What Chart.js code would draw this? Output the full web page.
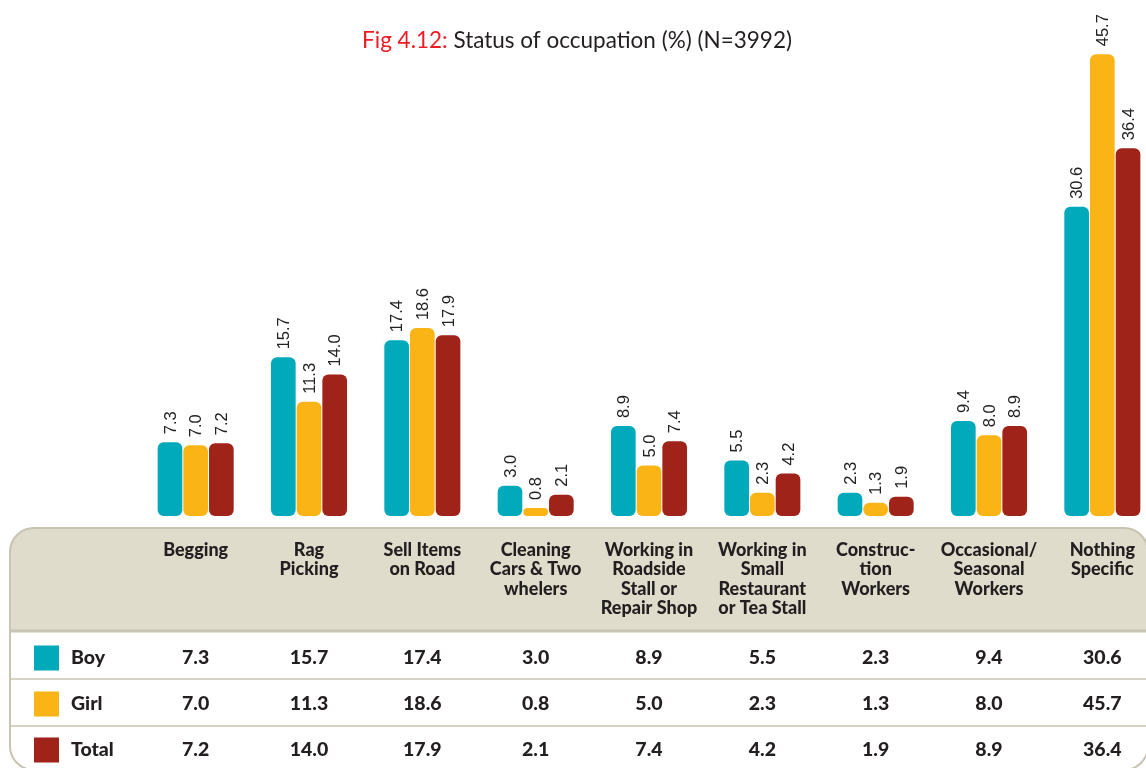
<!DOCTYPE html>
<html>
<head>
<meta charset="utf-8">
<script src="https://cdn.jsdelivr.net/npm/chart.js@4/dist/chart.umd.min.js"></script>
<style>
  html, body { margin: 0; padding: 0; background: #fff; overflow: hidden; }
  #wrap { width: 1160px; height: 768px; }
</style>
</head>
<body>
<div id="wrap"><canvas id="myChart" width="1160" height="768"></canvas></div>
<script>
const categories = [
  ["Begging"],
  ["Rag", "Picking"],
  ["Sell Items", "on Road"],
  ["Cleaning", "Cars & Two", "whelers"],
  ["Working in", "Roadside", "Stall or", "Repair Shop"],
  ["Working in", "Small", "Restaurant", "or Tea Stall"],
  ["Construc-", "tion", "Workers"],
  ["Occasional/", "Seasonal", "Workers"],
  ["Nothing", "Specific"],
];
const boy = [7.3, 15.7, 17.4, 3.0, 8.9, 5.5, 2.3, 9.4, 30.6];
const girl = [7.0, 11.3, 18.6, 0.8, 5.0, 2.3, 1.3, 8.0, 45.7];
const total = [7.2, 14.0, 17.9, 2.1, 7.4, 4.2, 1.9, 8.9, 36.4];
const seriesNames = ["Boy", "Girl", "Total"];
const titleRed = "Fig 4.12:";
const titleRest = " Status of occupation (%) (N=3992)";

const colors = ["#00aabb", "#fbb416", "#a02319"];
const beige = "#e0dccb";
const lineCol = "#c8c4b1";
const ink = "#231f20";

const ctx = document.getElementById("myChart").getContext("2d");

// rotated numbers above bars
const valueLabels = {
  id: "valueLabels",
  afterDatasetsDraw(chart) {
    const c = chart.ctx;
    c.save();
    c.font = "16.5px 'Liberation Sans', Arial, sans-serif";
    c.fillStyle = "#222";
    c.textAlign = "left";
    c.textBaseline = "middle";
    chart.data.datasets.forEach((ds, i) => {
      chart.getDatasetMeta(i).data.forEach((bar, j) => {
        c.save();
        c.translate(bar.x + 1, bar.y - 8);
        c.rotate(-Math.PI / 2);
        c.fillText(ds.data[j].toFixed(1), 0, 0);
        c.restore();
      });
    });
    c.restore();
  },
};

// title + data table under the bars
const tablePlugin = {
  id: "tablePlugin",
  afterDraw(chart) {
    const c = chart.ctx;
    const xs = chart.scales.x;
    c.save();

    // title
    c.font = "22.5px Lato, 'Noto Sans', sans-serif";
    c.textBaseline = "middle";
    c.textAlign = "left";
    const w1 = c.measureText(titleRed).width;
    const w2 = c.measureText(titleRest).width;
    let tx = 577 - (w1 + w2) / 2;
    c.fillStyle = "#ec1c24";
    c.fillText(titleRed, tx, 41);
    c.fillStyle = ink;
    c.fillText(titleRest, tx + w1, 41);

    // box
    const left = 10, top = 528, right = 1148, bottom = 770, headBottom = 631;
    c.beginPath();
    c.roundRect(left, top, right - left, bottom - top, 24);
    c.save();
    c.clip();
    c.fillStyle = "#fff";
    c.fillRect(left, top, right - left, bottom - top);
    c.fillStyle = beige;
    c.fillRect(left, top, right - left, headBottom - top);
    c.restore();
    c.lineWidth = 2;
    c.strokeStyle = lineCol;
    c.stroke();

    c.beginPath();
    c.lineWidth = 3;
    c.moveTo(left, headBottom);
    c.lineTo(right, headBottom);
    c.stroke();
    c.lineWidth = 1.5;
    [679, 726].forEach((y) => {
      c.beginPath();
      c.moveTo(left, y);
      c.lineTo(right, y);
      c.stroke();
    });

    // header labels
    c.fillStyle = ink;
    c.textAlign = "center";
    c.font = "900 18px Lato, 'Noto Sans', sans-serif";
    categories.forEach((lines, i) => {
      const cx = xs.getPixelForValue(i);
      lines.forEach((ln, k) => {
        c.fillText(ln, cx, 550 + k * 19.5);
      });
    });

    // rows
    const rows = [boy, girl, total];
    const rowY = [658, 704, 750];
    c.font = "900 19.5px Lato, 'Noto Sans', sans-serif";
    rows.forEach((vals, r) => {
      c.fillStyle = colors[r];
      c.fillRect(34, rowY[r] - 12.5, 25, 25);
      c.fillStyle = ink;
      c.textAlign = "left";
      c.fillText(seriesNames[r], 71, rowY[r]);
      c.textAlign = "center";
      vals.forEach((v, i) => {
        c.fillText(v.toFixed(1), xs.getPixelForValue(i), rowY[r]);
      });
    });

    c.restore();
  },
};

const data = {
  labels: categories.map((l) => l.join(" ")),
  datasets: [boy, girl, total].map((vals, i) => ({
    label: seriesNames[i],
    data: vals,
    backgroundColor: colors[i],
    borderRadius: 6,
    borderSkipped: false,
    barPercentage: 0.96,
    categoryPercentage: 0.68,
  })),
};

const config = {
  type: "bar",
  data: data,
  options: {
    responsive: false,
    animation: false,
    layout: { padding: { left: 139, right: 1, top: 31, bottom: 252 } },
    plugins: {
      legend: { display: false },
      title: { display: false },
      tooltip: { enabled: false },
    },
    scales: {
      x: { display: false },
      y: { display: false, min: 0, max: 48 },
    },
  },
  plugins: [valueLabels, tablePlugin],
};

const myChart = new Chart(ctx, config);
</script>
</body>
</html>
